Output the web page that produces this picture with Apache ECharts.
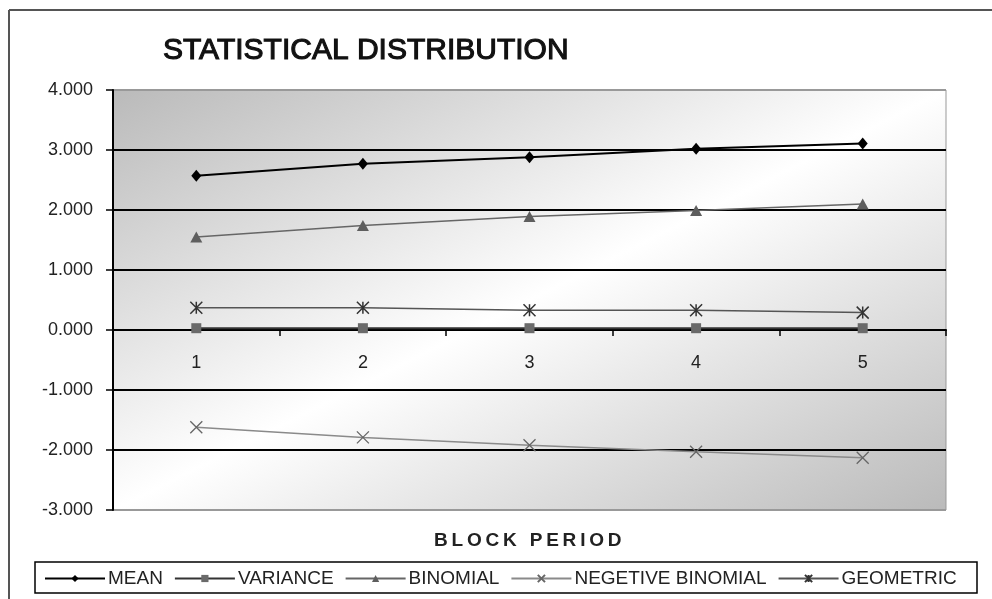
<!DOCTYPE html>
<html>
<head>
<meta charset="utf-8">
<script src="https://cdn.jsdelivr.net/npm/echarts@6/dist/echarts.min.js"></script>
<style>html,body{margin:0;padding:0;background:#fff;}#c{width:992px;height:599px;}</style>
</head>
<body>
<div id="c"></div>
<script>
var categories = ['1', '2', '3', '4', '5'];
var yTicks = [-3, -2, -1, 0, 1, 2, 3, 4];
var mean = [2.57, 2.77, 2.88, 3.02, 3.11];
var variance = [0.03, 0.03, 0.03, 0.03, 0.03];
var binomial = [1.55, 1.74, 1.89, 1.99, 2.10];
var negBinomial = [-1.62, -1.79, -1.92, -2.03, -2.13];
var geometric = [0.37, 0.37, 0.33, 0.33, 0.29];
var seriesNames = ['MEAN', 'VARIANCE', 'BINOMIAL', 'NEGETIVE BINOMIAL', 'GEOMETRIC'];

var FONT = '"Liberation Sans", Arial, sans-serif';
var chart = echarts.init(document.getElementById('c'), null, {renderer: 'canvas'});

var gridL = 113, gridT = 90, gridR = 946, gridB = 510;
var yMin = yTicks[0], yMax = yTicks[yTicks.length - 1];
// pixel distance from bottom of grid to the zero line
var zeroOffset = (gridB - gridT) * (0 - yMin) / (yMax - yMin);
var bg = new echarts.graphic.LinearGradient(113, 90, 451, 760, [
  {offset: 0, color: '#bababa'},
  {offset: 0.5, color: '#ffffff'},
  {offset: 1, color: '#bababa'}
], true);

var option = {
  animation: false,
  backgroundColor: '#fff',
  title: {
    text: 'STATISTICAL DISTRIBUTION',
    left: 158, top: 31,
    textStyle: {fontFamily: FONT, fontSize: 30, fontWeight: 'normal', color: '#111',
      textBorderColor: '#111', textBorderWidth: 1.1}
  },
  grid: {
    left: gridL, top: gridT, right: 992 - gridR, bottom: 599 - gridB,
    show: true, backgroundColor: bg, borderColor: '#999', borderWidth: 1
  },
  xAxis: {
    type: 'category', data: categories, boundaryGap: true,
    position: 'bottom', offset: -zeroOffset,
    axisLine: {onZero: false, lineStyle: {color: '#000', width: 2}},
    axisTick: {show: true, inside: false, length: 6, lineStyle: {color: '#000', width: 1.5}},
    axisLabel: {margin: 24, fontFamily: FONT, fontSize: 18, color: '#222'},
    splitLine: {show: false}
  },
  yAxis: {
    type: 'value', min: yMin, max: yMax, interval: 1,
    axisLine: {show: true, lineStyle: {color: '#000', width: 2}},
    axisTick: {show: true, inside: false, length: 7, lineStyle: {color: '#000', width: 1.5}},
    axisLabel: {margin: 20, fontFamily: FONT, fontSize: 18, color: '#222',
      formatter: function (v) { return v.toFixed(3); }},
    splitLine: {show: true, lineStyle: {width: 2,
      color: ['#999', '#000', '#000', '#000', '#000', '#000', '#000', '#999']}}
  },
  legend: {
    data: seriesNames,
    left: 44, top: 569, padding: 0,
    itemWidth: 60, itemHeight: 9, itemGap: 11,
    textStyle: {fontFamily: FONT, fontSize: 19, color: '#222', padding: [0, 0, 0, -2]}
  },
  graphic: [
    {type: 'line', shape: {x1: 9, y1: 10, x2: 1000, y2: 10}, style: {stroke: '#555', lineWidth: 2}, silent: true},
    {type: 'line', shape: {x1: 9, y1: 10, x2: 9, y2: 600}, style: {stroke: '#555', lineWidth: 2}, silent: true},
    {type: 'rect', shape: {x: 35, y: 562, width: 942, height: 31}, style: {fill: 'none', stroke: '#000', lineWidth: 1.5}, silent: true, z: 10},
    {type: 'text', x: 434, top: 531, style: {
      text: 'B\u2009L\u2009O\u2009C\u2009K\u2009\u2009 P\u2009E\u2009R\u2009I\u2009O\u2009D',
      font: 'bold 19px ' + FONT, fill: '#222'}, silent: true}
  ],
  series: [
    {name: seriesNames[0], type: 'line', data: mean, symbol: 'diamond', symbolSize: [10, 12],
      lineStyle: {color: '#000', width: 2}, itemStyle: {color: '#000'}, z: 5},
    {name: seriesNames[1], type: 'line', data: variance, symbol: 'rect', symbolSize: 10,
      lineStyle: {color: '#333', width: 2}, itemStyle: {color: '#6a6a6a'}, z: 4},
    {name: seriesNames[2], type: 'line', data: binomial, symbol: 'triangle', symbolSize: [12, 11],
      lineStyle: {color: '#666', width: 1.5}, itemStyle: {color: '#5e5e5e'}, z: 4},
    {name: seriesNames[3], type: 'line', data: negBinomial, symbol: 'path://M0,0L10,10M10,0L0,10', symbolSize: 12,
      lineStyle: {color: '#8a8a8a', width: 1.5}, itemStyle: {color: 'none', borderColor: '#666', borderWidth: 1.3}, z: 4},
    {name: seriesNames[4], type: 'line', data: geometric, symbol: 'path://M0,0L10,10M10,0L0,10M5,0L5,10', symbolSize: 12,
      lineStyle: {color: '#555', width: 1.5}, itemStyle: {color: 'none', borderColor: '#333', borderWidth: 1.5}, z: 4}
  ]
};
chart.setOption(option);
</script>
</body>
</html>
